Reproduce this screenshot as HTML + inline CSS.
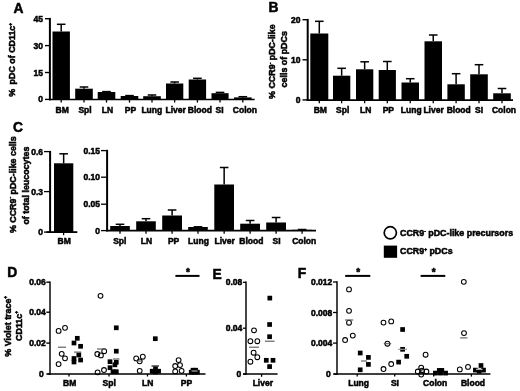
<!DOCTYPE html>
<html lang="en"><head><meta charset="utf-8"><title>Figure</title>
<style>
html,body{margin:0;padding:0;background:#fff;}
body{width:520px;height:391px;overflow:hidden;font-family:"Liberation Sans",Arial,sans-serif;}
svg{display:block;will-change:transform;}
</style></head><body>
<svg width="520" height="391" viewBox="0 0 520 391">
<rect width="520" height="391" fill="#fff"/>
<text x="18.5" y="12.5" font-size="13.8" text-anchor="middle" font-family="Liberation Sans, Arial, sans-serif" font-weight="bold" stroke="#000" stroke-width="0.5" >A</text>
<text transform="translate(15.3,96.8) rotate(-90)" font-size="8.9" text-anchor="start" font-family="Liberation Sans, Arial, sans-serif" font-weight="bold" stroke="#000" stroke-width="0.5">%</text>
<text transform="translate(15.3,84.4) rotate(-90)" font-size="8.9" text-anchor="start" font-family="Liberation Sans, Arial, sans-serif" font-weight="bold" stroke="#000" stroke-width="0.5">pDC of CD11c<tspan font-size="4.8" dy="-3.6">+</tspan><tspan dy="3.6" font-size="1">&#8203;</tspan></text>
<line x1="49.9" y1="17.9" x2="49.9" y2="100.3" stroke="#000" stroke-width="2"/>
<line x1="48.9" y1="99.5" x2="254.6" y2="99.5" stroke="#000" stroke-width="1.7"/>
<line x1="45" y1="18.7" x2="50" y2="18.7" stroke="#000" stroke-width="1.4"/>
<text x="43" y="21.7" font-size="8.5" text-anchor="end" font-family="Liberation Sans, Arial, sans-serif" font-weight="bold" stroke="#000" stroke-width="0.5" >45</text>
<line x1="45" y1="45.6" x2="50" y2="45.6" stroke="#000" stroke-width="1.4"/>
<text x="43" y="48.6" font-size="8.5" text-anchor="end" font-family="Liberation Sans, Arial, sans-serif" font-weight="bold" stroke="#000" stroke-width="0.5" >30</text>
<line x1="45" y1="72.5" x2="50" y2="72.5" stroke="#000" stroke-width="1.4"/>
<text x="43" y="75.5" font-size="8.5" text-anchor="end" font-family="Liberation Sans, Arial, sans-serif" font-weight="bold" stroke="#000" stroke-width="0.5" >15</text>
<line x1="45" y1="99.4" x2="50" y2="99.4" stroke="#000" stroke-width="1.4"/>
<text x="43" y="102.4" font-size="8.5" text-anchor="end" font-family="Liberation Sans, Arial, sans-serif" font-weight="bold" stroke="#000" stroke-width="0.5" >0</text>
<rect x="52.50" y="31.5" width="17.40" height="68.00" fill="#000"/>
<line x1="61.199999999999996" y1="31.5" x2="61.199999999999996" y2="24.3" stroke="#000" stroke-width="1.5"/>
<line x1="56.9" y1="24.3" x2="65.5" y2="24.3" stroke="#000" stroke-width="1.5"/>
<line x1="61.199999999999996" y1="99.5" x2="61.199999999999996" y2="102.6" stroke="#000" stroke-width="1.3"/>
<text x="62.199999999999996" y="112.6" font-size="8.5" text-anchor="middle" font-family="Liberation Sans, Arial, sans-serif" font-weight="bold" stroke="#000" stroke-width="0.5" >BM</text>
<rect x="75.20" y="88.7" width="17.60" height="10.80" fill="#000"/>
<line x1="84.0" y1="88.7" x2="84.0" y2="87" stroke="#000" stroke-width="1.5"/>
<line x1="79.7" y1="87" x2="88.3" y2="87" stroke="#000" stroke-width="1.5"/>
<line x1="84.0" y1="99.5" x2="84.0" y2="102.6" stroke="#000" stroke-width="1.3"/>
<text x="85.0" y="112.6" font-size="8.5" text-anchor="middle" font-family="Liberation Sans, Arial, sans-serif" font-weight="bold" stroke="#000" stroke-width="0.5" >Spl</text>
<rect x="97.70" y="92" width="17.60" height="7.50" fill="#000"/>
<line x1="106.5" y1="92" x2="106.5" y2="91.6" stroke="#000" stroke-width="1.5"/>
<line x1="102.2" y1="91.6" x2="110.8" y2="91.6" stroke="#000" stroke-width="1.5"/>
<line x1="106.5" y1="99.5" x2="106.5" y2="102.6" stroke="#000" stroke-width="1.3"/>
<text x="107.5" y="112.6" font-size="8.5" text-anchor="middle" font-family="Liberation Sans, Arial, sans-serif" font-weight="bold" stroke="#000" stroke-width="0.5" >LN</text>
<rect x="120.70" y="96" width="17.60" height="3.50" fill="#000"/>
<line x1="129.5" y1="96" x2="129.5" y2="95.6" stroke="#000" stroke-width="1.5"/>
<line x1="125.2" y1="95.6" x2="133.8" y2="95.6" stroke="#000" stroke-width="1.5"/>
<line x1="129.5" y1="99.5" x2="129.5" y2="102.6" stroke="#000" stroke-width="1.3"/>
<text x="130.5" y="112.6" font-size="8.5" text-anchor="middle" font-family="Liberation Sans, Arial, sans-serif" font-weight="bold" stroke="#000" stroke-width="0.5" >PP</text>
<rect x="143.20" y="96.2" width="17.60" height="3.30" fill="#000"/>
<line x1="152.0" y1="96.2" x2="152.0" y2="95" stroke="#000" stroke-width="1.5"/>
<line x1="147.7" y1="95" x2="156.3" y2="95" stroke="#000" stroke-width="1.5"/>
<line x1="152.0" y1="99.5" x2="152.0" y2="102.6" stroke="#000" stroke-width="1.3"/>
<text x="151.8" y="112.6" font-size="8.5" text-anchor="middle" font-family="Liberation Sans, Arial, sans-serif" font-weight="bold" stroke="#000" stroke-width="0.5" >Lung</text>
<rect x="166.00" y="83.5" width="17.30" height="16.00" fill="#000"/>
<line x1="174.65" y1="83.5" x2="174.65" y2="82" stroke="#000" stroke-width="1.5"/>
<line x1="170.35" y1="82" x2="178.95000000000002" y2="82" stroke="#000" stroke-width="1.5"/>
<line x1="174.65" y1="99.5" x2="174.65" y2="102.6" stroke="#000" stroke-width="1.3"/>
<text x="175.65" y="112.6" font-size="8.5" text-anchor="middle" font-family="Liberation Sans, Arial, sans-serif" font-weight="bold" stroke="#000" stroke-width="0.5" >Liver</text>
<rect x="188.70" y="79.5" width="17.40" height="20.00" fill="#000"/>
<line x1="197.4" y1="79.5" x2="197.4" y2="78.3" stroke="#000" stroke-width="1.5"/>
<line x1="193.1" y1="78.3" x2="201.70000000000002" y2="78.3" stroke="#000" stroke-width="1.5"/>
<line x1="197.4" y1="99.5" x2="197.4" y2="102.6" stroke="#000" stroke-width="1.3"/>
<text x="199.9" y="112.6" font-size="8.5" text-anchor="middle" font-family="Liberation Sans, Arial, sans-serif" font-weight="bold" stroke="#000" stroke-width="0.5" >Blood</text>
<rect x="211.50" y="93.2" width="17.10" height="6.30" fill="#000"/>
<line x1="220.05" y1="93.2" x2="220.05" y2="92.4" stroke="#000" stroke-width="1.5"/>
<line x1="215.75" y1="92.4" x2="224.35000000000002" y2="92.4" stroke="#000" stroke-width="1.5"/>
<line x1="220.05" y1="99.5" x2="220.05" y2="102.6" stroke="#000" stroke-width="1.3"/>
<text x="219.55" y="112.6" font-size="8.5" text-anchor="middle" font-family="Liberation Sans, Arial, sans-serif" font-weight="bold" stroke="#000" stroke-width="0.5" >SI</text>
<rect x="234.00" y="97.4" width="17.60" height="2.10" fill="#000"/>
<line x1="242.8" y1="97.4" x2="242.8" y2="96.7" stroke="#000" stroke-width="1.5"/>
<line x1="238.5" y1="96.7" x2="247.10000000000002" y2="96.7" stroke="#000" stroke-width="1.5"/>
<line x1="242.8" y1="99.5" x2="242.8" y2="102.6" stroke="#000" stroke-width="1.3"/>
<text x="244.9" y="112.6" font-size="8.5" text-anchor="middle" font-family="Liberation Sans, Arial, sans-serif" font-weight="bold" stroke="#000" stroke-width="0.5" >Colon</text>
<text x="273.4" y="12" font-size="13.8" text-anchor="middle" font-family="Liberation Sans, Arial, sans-serif" font-weight="bold" stroke="#000" stroke-width="0.5" >B</text>
<text transform="translate(275.2,98.9) rotate(-90)" font-size="8.9" text-anchor="start" font-family="Liberation Sans, Arial, sans-serif" font-weight="bold" stroke="#000" stroke-width="0.5">% CCR9<tspan font-size="4.8" dy="-3.6">-</tspan><tspan dy="3.6" font-size="1">&#8203;</tspan> pDC-like</text>
<text transform="translate(287,87.4) rotate(-90)" font-size="8.9" text-anchor="start" font-family="Liberation Sans, Arial, sans-serif" font-weight="bold" stroke="#000" stroke-width="0.5">cells of pDCs</text>
<line x1="307.7" y1="18.9" x2="307.7" y2="101" stroke="#000" stroke-width="2"/>
<line x1="306.7" y1="100.1" x2="513" y2="100.1" stroke="#000" stroke-width="1.8"/>
<line x1="302.5" y1="19.7" x2="307.5" y2="19.7" stroke="#000" stroke-width="1.4"/>
<text x="300.5" y="22.7" font-size="8.5" text-anchor="end" font-family="Liberation Sans, Arial, sans-serif" font-weight="bold" stroke="#000" stroke-width="0.5" >20</text>
<line x1="302.5" y1="59.8" x2="307.5" y2="59.8" stroke="#000" stroke-width="1.4"/>
<text x="300.5" y="62.8" font-size="8.5" text-anchor="end" font-family="Liberation Sans, Arial, sans-serif" font-weight="bold" stroke="#000" stroke-width="0.5" >10</text>
<line x1="302.5" y1="99.9" x2="307.5" y2="99.9" stroke="#000" stroke-width="1.4"/>
<text x="300.5" y="102.9" font-size="8.5" text-anchor="end" font-family="Liberation Sans, Arial, sans-serif" font-weight="bold" stroke="#000" stroke-width="0.5" >0</text>
<rect x="310.30" y="33.5" width="18.00" height="66.60" fill="#000"/>
<line x1="319.3" y1="33.5" x2="319.3" y2="21.3" stroke="#000" stroke-width="1.5"/>
<line x1="315.0" y1="21.3" x2="323.6" y2="21.3" stroke="#000" stroke-width="1.5"/>
<line x1="319.3" y1="100.1" x2="319.3" y2="103.2" stroke="#000" stroke-width="1.3"/>
<text x="320.3" y="113" font-size="8.5" text-anchor="middle" font-family="Liberation Sans, Arial, sans-serif" font-weight="bold" stroke="#000" stroke-width="0.5" >BM</text>
<rect x="333.00" y="75.7" width="17.30" height="24.40" fill="#000"/>
<line x1="341.65" y1="75.7" x2="341.65" y2="68.3" stroke="#000" stroke-width="1.5"/>
<line x1="337.34999999999997" y1="68.3" x2="345.95" y2="68.3" stroke="#000" stroke-width="1.5"/>
<line x1="341.65" y1="100.1" x2="341.65" y2="103.2" stroke="#000" stroke-width="1.3"/>
<text x="342.65" y="113" font-size="8.5" text-anchor="middle" font-family="Liberation Sans, Arial, sans-serif" font-weight="bold" stroke="#000" stroke-width="0.5" >Spl</text>
<rect x="356.00" y="69.3" width="17.30" height="30.80" fill="#000"/>
<line x1="364.65" y1="69.3" x2="364.65" y2="61.8" stroke="#000" stroke-width="1.5"/>
<line x1="360.34999999999997" y1="61.8" x2="368.95" y2="61.8" stroke="#000" stroke-width="1.5"/>
<line x1="364.65" y1="100.1" x2="364.65" y2="103.2" stroke="#000" stroke-width="1.3"/>
<text x="365.65" y="113" font-size="8.5" text-anchor="middle" font-family="Liberation Sans, Arial, sans-serif" font-weight="bold" stroke="#000" stroke-width="0.5" >LN</text>
<rect x="378.70" y="70" width="17.20" height="30.10" fill="#000"/>
<line x1="387.3" y1="70" x2="387.3" y2="61.5" stroke="#000" stroke-width="1.5"/>
<line x1="383.0" y1="61.5" x2="391.6" y2="61.5" stroke="#000" stroke-width="1.5"/>
<line x1="387.3" y1="100.1" x2="387.3" y2="103.2" stroke="#000" stroke-width="1.3"/>
<text x="388.3" y="113" font-size="8.5" text-anchor="middle" font-family="Liberation Sans, Arial, sans-serif" font-weight="bold" stroke="#000" stroke-width="0.5" >PP</text>
<rect x="401.50" y="82.5" width="17.50" height="17.60" fill="#000"/>
<line x1="410.25" y1="82.5" x2="410.25" y2="78.7" stroke="#000" stroke-width="1.5"/>
<line x1="405.95" y1="78.7" x2="414.55" y2="78.7" stroke="#000" stroke-width="1.5"/>
<line x1="410.25" y1="100.1" x2="410.25" y2="103.2" stroke="#000" stroke-width="1.3"/>
<text x="411.25" y="113" font-size="8.5" text-anchor="middle" font-family="Liberation Sans, Arial, sans-serif" font-weight="bold" stroke="#000" stroke-width="0.5" >Lung</text>
<rect x="424.50" y="41.3" width="17.50" height="58.80" fill="#000"/>
<line x1="433.25" y1="41.3" x2="433.25" y2="35" stroke="#000" stroke-width="1.5"/>
<line x1="428.95" y1="35" x2="437.55" y2="35" stroke="#000" stroke-width="1.5"/>
<line x1="433.25" y1="100.1" x2="433.25" y2="103.2" stroke="#000" stroke-width="1.3"/>
<text x="433.55" y="113" font-size="8.5" text-anchor="middle" font-family="Liberation Sans, Arial, sans-serif" font-weight="bold" stroke="#000" stroke-width="0.5" >Liver</text>
<rect x="447.40" y="84.3" width="17.40" height="15.80" fill="#000"/>
<line x1="456.1" y1="84.3" x2="456.1" y2="73.7" stroke="#000" stroke-width="1.5"/>
<line x1="451.8" y1="73.7" x2="460.40000000000003" y2="73.7" stroke="#000" stroke-width="1.5"/>
<line x1="456.1" y1="100.1" x2="456.1" y2="103.2" stroke="#000" stroke-width="1.3"/>
<text x="458.70000000000005" y="113" font-size="8.5" text-anchor="middle" font-family="Liberation Sans, Arial, sans-serif" font-weight="bold" stroke="#000" stroke-width="0.5" >Blood</text>
<rect x="470.20" y="74.3" width="17.60" height="25.80" fill="#000"/>
<line x1="479.0" y1="74.3" x2="479.0" y2="64.7" stroke="#000" stroke-width="1.5"/>
<line x1="474.7" y1="64.7" x2="483.3" y2="64.7" stroke="#000" stroke-width="1.5"/>
<line x1="479.0" y1="100.1" x2="479.0" y2="103.2" stroke="#000" stroke-width="1.3"/>
<text x="479.1" y="113" font-size="8.5" text-anchor="middle" font-family="Liberation Sans, Arial, sans-serif" font-weight="bold" stroke="#000" stroke-width="0.5" >SI</text>
<rect x="493.20" y="93.3" width="17.60" height="6.80" fill="#000"/>
<line x1="502.0" y1="93.3" x2="502.0" y2="88.5" stroke="#000" stroke-width="1.5"/>
<line x1="497.7" y1="88.5" x2="506.3" y2="88.5" stroke="#000" stroke-width="1.5"/>
<line x1="502.0" y1="100.1" x2="502.0" y2="103.2" stroke="#000" stroke-width="1.3"/>
<text x="504.0" y="113" font-size="8.5" text-anchor="middle" font-family="Liberation Sans, Arial, sans-serif" font-weight="bold" stroke="#000" stroke-width="0.5" >Colon</text>
<text x="18" y="132" font-size="13.8" text-anchor="middle" font-family="Liberation Sans, Arial, sans-serif" font-weight="bold" stroke="#000" stroke-width="0.5" >C</text>
<text transform="translate(15.8,233.1) rotate(-90)" font-size="8.9" text-anchor="start" font-family="Liberation Sans, Arial, sans-serif" font-weight="bold" stroke="#000" stroke-width="0.5">% CCR9<tspan font-size="4.8" dy="-3.6">-</tspan><tspan dy="3.6" font-size="1">&#8203;</tspan> pDC-like cells</text>
<text transform="translate(28.8,224.6) rotate(-90)" font-size="8.9" text-anchor="start" font-family="Liberation Sans, Arial, sans-serif" font-weight="bold" stroke="#000" stroke-width="0.5">of total leucocytes</text>
<line x1="50.1" y1="150.9" x2="50.1" y2="233" stroke="#000" stroke-width="2"/>
<line x1="46.5" y1="232.1" x2="77.3" y2="232.1" stroke="#000" stroke-width="1.8"/>
<line x1="44" y1="151.6" x2="50" y2="151.6" stroke="#000" stroke-width="1.3"/>
<text x="43" y="154.6" font-size="8.5" text-anchor="end" font-family="Liberation Sans, Arial, sans-serif" font-weight="bold" stroke="#000" stroke-width="0.5" >0.6</text>
<line x1="44" y1="191.6" x2="50" y2="191.6" stroke="#000" stroke-width="1.3"/>
<text x="43" y="194.6" font-size="8.5" text-anchor="end" font-family="Liberation Sans, Arial, sans-serif" font-weight="bold" stroke="#000" stroke-width="0.5" >0.3</text>
<line x1="44" y1="232.1" x2="50" y2="232.1" stroke="#000" stroke-width="1.3"/>
<text x="43" y="235.1" font-size="8.5" text-anchor="end" font-family="Liberation Sans, Arial, sans-serif" font-weight="bold" stroke="#000" stroke-width="0.5" >0</text>
<rect x="54.00" y="163.3" width="19.30" height="68.80" fill="#000"/>
<line x1="63.65" y1="163.3" x2="63.65" y2="153.8" stroke="#000" stroke-width="1.5"/>
<line x1="59.35" y1="153.8" x2="67.95" y2="153.8" stroke="#000" stroke-width="1.5"/>
<line x1="63.6" y1="232.1" x2="63.6" y2="235.2" stroke="#000" stroke-width="1.3"/>
<text x="64.2" y="244.2" font-size="8.5" text-anchor="middle" font-family="Liberation Sans, Arial, sans-serif" font-weight="bold" stroke="#000" stroke-width="0.5" >BM</text>
<line x1="107.1" y1="149.8" x2="107.1" y2="231.4" stroke="#000" stroke-width="2"/>
<line x1="106.1" y1="230.6" x2="316" y2="230.6" stroke="#000" stroke-width="1.8"/>
<line x1="101" y1="150.6" x2="107" y2="150.6" stroke="#000" stroke-width="1.3"/>
<text x="100" y="153.6" font-size="8.5" text-anchor="end" font-family="Liberation Sans, Arial, sans-serif" font-weight="bold" stroke="#000" stroke-width="0.5" >0.15</text>
<line x1="101" y1="177.2" x2="107" y2="177.2" stroke="#000" stroke-width="1.3"/>
<text x="100" y="180.2" font-size="8.5" text-anchor="end" font-family="Liberation Sans, Arial, sans-serif" font-weight="bold" stroke="#000" stroke-width="0.5" >0.10</text>
<line x1="101" y1="204.2" x2="107" y2="204.2" stroke="#000" stroke-width="1.3"/>
<text x="100" y="207.2" font-size="8.5" text-anchor="end" font-family="Liberation Sans, Arial, sans-serif" font-weight="bold" stroke="#000" stroke-width="0.5" >0.05</text>
<line x1="101" y1="230.6" x2="107" y2="230.6" stroke="#000" stroke-width="1.3"/>
<text x="100" y="233.6" font-size="8.5" text-anchor="end" font-family="Liberation Sans, Arial, sans-serif" font-weight="bold" stroke="#000" stroke-width="0.5" >0</text>
<rect x="110.20" y="226" width="19.60" height="4.50" fill="#000"/>
<line x1="120.0" y1="226" x2="120.0" y2="224.3" stroke="#000" stroke-width="1.5"/>
<line x1="115.7" y1="224.3" x2="124.3" y2="224.3" stroke="#000" stroke-width="1.5"/>
<line x1="120.0" y1="230.5" x2="120.0" y2="233.8" stroke="#000" stroke-width="1.3"/>
<text x="119.8" y="243.8" font-size="8.5" text-anchor="middle" font-family="Liberation Sans, Arial, sans-serif" font-weight="bold" stroke="#000" stroke-width="0.5" >Spl</text>
<rect x="136.20" y="221.3" width="19.60" height="9.20" fill="#000"/>
<line x1="146.0" y1="221.3" x2="146.0" y2="218.7" stroke="#000" stroke-width="1.5"/>
<line x1="141.7" y1="218.7" x2="150.3" y2="218.7" stroke="#000" stroke-width="1.5"/>
<line x1="146.0" y1="230.5" x2="146.0" y2="233.8" stroke="#000" stroke-width="1.3"/>
<text x="146.5" y="243.8" font-size="8.5" text-anchor="middle" font-family="Liberation Sans, Arial, sans-serif" font-weight="bold" stroke="#000" stroke-width="0.5" >LN</text>
<rect x="162.20" y="215.5" width="19.80" height="15.00" fill="#000"/>
<line x1="172.1" y1="215.5" x2="172.1" y2="210" stroke="#000" stroke-width="1.5"/>
<line x1="167.79999999999998" y1="210" x2="176.4" y2="210" stroke="#000" stroke-width="1.5"/>
<line x1="172.1" y1="230.5" x2="172.1" y2="233.8" stroke="#000" stroke-width="1.3"/>
<text x="173.6" y="243.8" font-size="8.5" text-anchor="middle" font-family="Liberation Sans, Arial, sans-serif" font-weight="bold" stroke="#000" stroke-width="0.5" >PP</text>
<rect x="188.20" y="227" width="19.60" height="3.50" fill="#000"/>
<line x1="198.0" y1="227" x2="198.0" y2="226.8" stroke="#000" stroke-width="1.5"/>
<line x1="193.7" y1="226.8" x2="202.3" y2="226.8" stroke="#000" stroke-width="1.5"/>
<line x1="198.0" y1="230.5" x2="198.0" y2="233.8" stroke="#000" stroke-width="1.3"/>
<text x="198.5" y="243.8" font-size="8.5" text-anchor="middle" font-family="Liberation Sans, Arial, sans-serif" font-weight="bold" stroke="#000" stroke-width="0.5" >Lung</text>
<rect x="214.30" y="184.5" width="19.70" height="46.00" fill="#000"/>
<line x1="224.14999999999998" y1="184.5" x2="224.14999999999998" y2="167.5" stroke="#000" stroke-width="1.5"/>
<line x1="219.84999999999997" y1="167.5" x2="228.45" y2="167.5" stroke="#000" stroke-width="1.5"/>
<line x1="224.14999999999998" y1="230.5" x2="224.14999999999998" y2="233.8" stroke="#000" stroke-width="1.3"/>
<text x="224.64999999999998" y="243.8" font-size="8.5" text-anchor="middle" font-family="Liberation Sans, Arial, sans-serif" font-weight="bold" stroke="#000" stroke-width="0.5" >Liver</text>
<rect x="240.20" y="223.7" width="19.80" height="6.80" fill="#000"/>
<line x1="250.1" y1="223.7" x2="250.1" y2="220.5" stroke="#000" stroke-width="1.5"/>
<line x1="245.79999999999998" y1="220.5" x2="254.4" y2="220.5" stroke="#000" stroke-width="1.5"/>
<line x1="250.1" y1="230.5" x2="250.1" y2="233.8" stroke="#000" stroke-width="1.3"/>
<text x="251.35" y="243.8" font-size="8.5" text-anchor="middle" font-family="Liberation Sans, Arial, sans-serif" font-weight="bold" stroke="#000" stroke-width="0.5" >Blood</text>
<rect x="266.20" y="222.5" width="19.80" height="8.00" fill="#000"/>
<line x1="276.1" y1="222.5" x2="276.1" y2="217.5" stroke="#000" stroke-width="1.5"/>
<line x1="271.8" y1="217.5" x2="280.40000000000003" y2="217.5" stroke="#000" stroke-width="1.5"/>
<line x1="276.1" y1="230.5" x2="276.1" y2="233.8" stroke="#000" stroke-width="1.3"/>
<text x="276.6" y="243.8" font-size="8.5" text-anchor="middle" font-family="Liberation Sans, Arial, sans-serif" font-weight="bold" stroke="#000" stroke-width="0.5" >SI</text>
<rect x="292.20" y="229.8" width="19.80" height="0.70" fill="#000"/>
<line x1="302.1" y1="229.8" x2="302.1" y2="229.5" stroke="#000" stroke-width="1.5"/>
<line x1="297.8" y1="229.5" x2="306.40000000000003" y2="229.5" stroke="#000" stroke-width="1.5"/>
<line x1="302.1" y1="230.5" x2="302.1" y2="233.8" stroke="#000" stroke-width="1.3"/>
<text x="304.20000000000005" y="243.8" font-size="8.5" text-anchor="middle" font-family="Liberation Sans, Arial, sans-serif" font-weight="bold" stroke="#000" stroke-width="0.5" >Colon</text>
<circle cx="390.3" cy="232.8" r="6.1" fill="#fff" stroke="#000" stroke-width="1.7"/>
<text x="400" y="236.3" font-size="8.9" text-anchor="start" font-family="Liberation Sans, Arial, sans-serif" font-weight="bold" stroke="#000" stroke-width="0.5" >CCR9<tspan font-size="4.8" dy="-3.6">-</tspan><tspan dy="3.6" font-size="1">&#8203;</tspan> pDC-like precursors</text>
<rect x="383.8" y="245.6" width="13.3" height="12.2" fill="#000"/>
<text x="400" y="254.2" font-size="8.9" text-anchor="start" font-family="Liberation Sans, Arial, sans-serif" font-weight="bold" stroke="#000" stroke-width="0.5" >CCR9<tspan font-size="4.8" dy="-3.6">+</tspan><tspan dy="3.6" font-size="1">&#8203;</tspan> pDCs</text>
<text x="12.2" y="276.8" font-size="13.8" text-anchor="middle" font-family="Liberation Sans, Arial, sans-serif" font-weight="bold" stroke="#000" stroke-width="0.5" >D</text>
<text transform="translate(10.8,356.7) rotate(-90)" font-size="8.9" text-anchor="start" font-family="Liberation Sans, Arial, sans-serif" font-weight="bold" stroke="#000" stroke-width="0.5">% Violet trace<tspan font-size="4.8" dy="-3.6">+</tspan><tspan dy="3.6" font-size="1">&#8203;</tspan></text>
<text transform="translate(21.5,340.9) rotate(-90)" font-size="8.9" text-anchor="start" font-family="Liberation Sans, Arial, sans-serif" font-weight="bold" stroke="#000" stroke-width="0.5">CD11c<tspan font-size="4.8" dy="-3.6">+</tspan><tspan dy="3.6" font-size="1">&#8203;</tspan></text>
<line x1="50" y1="281.5" x2="50" y2="374.7" stroke="#000" stroke-width="1.45"/>
<line x1="47.5" y1="374.0" x2="205.5" y2="374.0" stroke="#000" stroke-width="1.5"/>
<line x1="46.3" y1="282.2" x2="50" y2="282.2" stroke="#000" stroke-width="1.4"/>
<text x="45.8" y="285.2" font-size="8.5" text-anchor="end" font-family="Liberation Sans, Arial, sans-serif" font-weight="bold" stroke="#000" stroke-width="0.5" >0.06</text>
<line x1="46.3" y1="312.2" x2="50" y2="312.2" stroke="#000" stroke-width="1.4"/>
<text x="45.8" y="315.2" font-size="8.5" text-anchor="end" font-family="Liberation Sans, Arial, sans-serif" font-weight="bold" stroke="#000" stroke-width="0.5" >0.04</text>
<line x1="46.3" y1="343.1" x2="50" y2="343.1" stroke="#000" stroke-width="1.4"/>
<text x="45.8" y="346.1" font-size="8.5" text-anchor="end" font-family="Liberation Sans, Arial, sans-serif" font-weight="bold" stroke="#000" stroke-width="0.5" >0.02</text>
<line x1="46.3" y1="374.0" x2="50" y2="374.0" stroke="#000" stroke-width="1.4"/>
<text x="43.8" y="377.0" font-size="8.5" text-anchor="end" font-family="Liberation Sans, Arial, sans-serif" font-weight="bold" stroke="#000" stroke-width="0.5" >0</text>
<line x1="69" y1="374.0" x2="69" y2="376.5" stroke="#000" stroke-width="1.3"/>
<text x="69.7" y="386" font-size="8.5" text-anchor="middle" font-family="Liberation Sans, Arial, sans-serif" font-weight="bold" stroke="#000" stroke-width="0.5" >BM</text>
<line x1="109" y1="374.0" x2="109" y2="376.5" stroke="#000" stroke-width="1.3"/>
<text x="109.2" y="386" font-size="8.5" text-anchor="middle" font-family="Liberation Sans, Arial, sans-serif" font-weight="bold" stroke="#000" stroke-width="0.5" >Spl</text>
<line x1="147.5" y1="374.0" x2="147.5" y2="376.5" stroke="#000" stroke-width="1.3"/>
<text x="147.7" y="386" font-size="8.5" text-anchor="middle" font-family="Liberation Sans, Arial, sans-serif" font-weight="bold" stroke="#000" stroke-width="0.5" >LN</text>
<line x1="186.4" y1="374.0" x2="186.4" y2="376.5" stroke="#000" stroke-width="1.3"/>
<text x="186.4" y="386" font-size="8.5" text-anchor="middle" font-family="Liberation Sans, Arial, sans-serif" font-weight="bold" stroke="#000" stroke-width="0.5" >PP</text>
<line x1="175.4" y1="275.9" x2="199.5" y2="275.9" stroke="#000" stroke-width="2"/>
<text x="188" y="275.6" font-size="10" text-anchor="middle" font-family="Liberation Sans, Arial, sans-serif" font-weight="bold" stroke="#000" stroke-width="0.5" >*</text>
<circle cx="58.6" cy="330.9" r="2.4" fill="none" stroke="#000" stroke-width="1.05"/>
<circle cx="65" cy="327.8" r="2.4" fill="none" stroke="#000" stroke-width="1.05"/>
<circle cx="61.7" cy="353.8" r="2.4" fill="none" stroke="#000" stroke-width="1.05"/>
<circle cx="65" cy="358.3" r="2.4" fill="none" stroke="#000" stroke-width="1.05"/>
<circle cx="58.6" cy="364.1" r="2.4" fill="none" stroke="#000" stroke-width="1.05"/>
<line x1="58" y1="347.2" x2="66" y2="347.2" stroke="#555" stroke-width="1.1"/>
<rect x="74.95" y="335.95" width="4.7" height="4.7" fill="#000"/>
<rect x="71.65" y="340.65" width="4.7" height="4.7" fill="#000"/>
<rect x="78.25" y="343.95" width="4.7" height="4.7" fill="#000"/>
<rect x="76.45" y="352.65" width="4.7" height="4.7" fill="#000"/>
<rect x="71.65" y="356.15" width="4.7" height="4.7" fill="#000"/>
<rect x="78.25" y="357.65" width="4.7" height="4.7" fill="#000"/>
<rect x="71.65" y="359.65" width="4.7" height="4.7" fill="#000"/>
<line x1="74" y1="352.1" x2="81.3" y2="352.1" stroke="#555" stroke-width="1.1"/>
<circle cx="100.5" cy="295.8" r="2.4" fill="none" stroke="#000" stroke-width="1.05"/>
<circle cx="97.3" cy="354" r="2.4" fill="none" stroke="#000" stroke-width="1.05"/>
<circle cx="100.9" cy="355.4" r="2.4" fill="none" stroke="#000" stroke-width="1.05"/>
<circle cx="104.2" cy="351.2" r="2.4" fill="none" stroke="#000" stroke-width="1.05"/>
<circle cx="104" cy="370" r="2.4" fill="none" stroke="#000" stroke-width="1.05"/>
<circle cx="97.6" cy="372.3" r="2.4" fill="none" stroke="#000" stroke-width="1.05"/>
<line x1="97" y1="349" x2="105" y2="349" stroke="#555" stroke-width="1.1"/>
<rect x="113.95" y="325.45" width="4.7" height="4.7" fill="#000"/>
<rect x="113.95" y="348.85" width="4.7" height="4.7" fill="#000"/>
<rect x="107.65" y="359.35" width="4.7" height="4.7" fill="#000"/>
<rect x="113.95" y="359.95" width="4.7" height="4.7" fill="#000"/>
<rect x="112.55" y="362.45" width="4.7" height="4.7" fill="#000"/>
<rect x="107.65" y="365.35" width="4.7" height="4.7" fill="#000"/>
<rect x="110.65" y="369.35" width="4.7" height="4.7" fill="#000"/>
<rect x="113.95" y="369.35" width="4.7" height="4.7" fill="#000"/>
<line x1="113" y1="359" x2="119.4" y2="359" stroke="#555" stroke-width="1.1"/>
<circle cx="136.2" cy="358.4" r="2.4" fill="none" stroke="#000" stroke-width="1.05"/>
<circle cx="142.8" cy="356.7" r="2.4" fill="none" stroke="#000" stroke-width="1.05"/>
<circle cx="139.7" cy="361.3" r="2.4" fill="none" stroke="#000" stroke-width="1.05"/>
<circle cx="139.7" cy="370.8" r="2.4" fill="none" stroke="#000" stroke-width="1.05"/>
<line x1="136" y1="361" x2="143" y2="361" stroke="#555" stroke-width="1.1"/>
<rect x="152.95" y="336.35" width="4.7" height="4.7" fill="#000"/>
<rect x="149.85" y="368.85" width="4.7" height="4.7" fill="#000"/>
<rect x="153.15" y="366.45" width="4.7" height="4.7" fill="#000"/>
<rect x="156.25" y="368.85" width="4.7" height="4.7" fill="#000"/>
<rect x="153.05" y="369.65" width="4.7" height="4.7" fill="#000"/>
<line x1="151.5" y1="366" x2="159" y2="366" stroke="#000" stroke-width="1.1"/>
<circle cx="178.6" cy="360.1" r="2.4" fill="none" stroke="#000" stroke-width="1.05"/>
<circle cx="175.2" cy="366" r="2.4" fill="none" stroke="#000" stroke-width="1.05"/>
<circle cx="180" cy="365.1" r="2.4" fill="none" stroke="#000" stroke-width="1.05"/>
<circle cx="175.2" cy="371.4" r="2.4" fill="none" stroke="#000" stroke-width="1.05"/>
<circle cx="181.6" cy="370.8" r="2.4" fill="none" stroke="#000" stroke-width="1.05"/>
<rect x="190.65" y="367.85" width="4.7" height="4.7" fill="#000"/>
<rect x="193.25" y="367.85" width="4.7" height="4.7" fill="#000"/>
<rect x="188.85" y="369.85" width="4.7" height="4.7" fill="#000"/>
<rect x="191.95" y="369.85" width="4.7" height="4.7" fill="#000"/>
<rect x="195.05" y="369.85" width="4.7" height="4.7" fill="#000"/>
<line x1="191.5" y1="371" x2="197.5" y2="371" stroke="#bbb" stroke-width="1.1"/>
<text x="217.2" y="279" font-size="13.8" text-anchor="middle" font-family="Liberation Sans, Arial, sans-serif" font-weight="bold" stroke="#000" stroke-width="0.5" >E</text>
<line x1="246" y1="281.5" x2="246" y2="374.8" stroke="#000" stroke-width="1.45"/>
<line x1="243" y1="374.1" x2="277.6" y2="374.1" stroke="#000" stroke-width="1.5"/>
<line x1="243" y1="282.3" x2="246" y2="282.3" stroke="#000" stroke-width="1.3"/>
<text x="242.3" y="285.3" font-size="8.5" text-anchor="end" font-family="Liberation Sans, Arial, sans-serif" font-weight="bold" stroke="#000" stroke-width="0.5" >0.08</text>
<line x1="243" y1="328.2" x2="246" y2="328.2" stroke="#000" stroke-width="1.3"/>
<text x="242.3" y="331.2" font-size="8.5" text-anchor="end" font-family="Liberation Sans, Arial, sans-serif" font-weight="bold" stroke="#000" stroke-width="0.5" >0.04</text>
<line x1="243" y1="374.1" x2="246" y2="374.1" stroke="#000" stroke-width="1.3"/>
<text x="241.3" y="377.1" font-size="8.5" text-anchor="end" font-family="Liberation Sans, Arial, sans-serif" font-weight="bold" stroke="#000" stroke-width="0.5" >0</text>
<line x1="261.6" y1="374.1" x2="261.6" y2="376.8" stroke="#000" stroke-width="1.3"/>
<text x="262.8" y="386.3" font-size="8.5" text-anchor="middle" font-family="Liberation Sans, Arial, sans-serif" font-weight="bold" stroke="#000" stroke-width="0.5" >Liver</text>
<circle cx="254" cy="330.3" r="2.4" fill="none" stroke="#000" stroke-width="1.05"/>
<circle cx="250.4" cy="341.2" r="2.4" fill="none" stroke="#000" stroke-width="1.05"/>
<circle cx="257.3" cy="341.2" r="2.4" fill="none" stroke="#000" stroke-width="1.05"/>
<circle cx="253.6" cy="352.7" r="2.4" fill="none" stroke="#000" stroke-width="1.05"/>
<circle cx="257.3" cy="357.2" r="2.4" fill="none" stroke="#000" stroke-width="1.05"/>
<circle cx="250.4" cy="361.7" r="2.4" fill="none" stroke="#000" stroke-width="1.05"/>
<line x1="249.1" y1="347.2" x2="258.9" y2="347.2" stroke="#555" stroke-width="1.1"/>
<rect x="267.45" y="295.75" width="4.7" height="4.7" fill="#000"/>
<rect x="267.25" y="322.15" width="4.7" height="4.7" fill="#000"/>
<rect x="267.25" y="334.35" width="4.7" height="4.7" fill="#000"/>
<rect x="263.95" y="357.95" width="4.7" height="4.7" fill="#000"/>
<rect x="270.65" y="357.95" width="4.7" height="4.7" fill="#000"/>
<rect x="267.25" y="364.25" width="4.7" height="4.7" fill="#000"/>
<line x1="264.9" y1="341.2" x2="274.5" y2="341.2" stroke="#555" stroke-width="1.1"/>
<text x="302" y="278.2" font-size="13.8" text-anchor="middle" font-family="Liberation Sans, Arial, sans-serif" font-weight="bold" stroke="#000" stroke-width="0.5" >F</text>
<line x1="337" y1="281.2" x2="337" y2="374.8" stroke="#000" stroke-width="1.45"/>
<line x1="334" y1="374.1" x2="490.4" y2="374.1" stroke="#000" stroke-width="1.5"/>
<line x1="333" y1="282" x2="337" y2="282" stroke="#000" stroke-width="1.3"/>
<text x="332.2" y="285" font-size="8.5" text-anchor="end" font-family="Liberation Sans, Arial, sans-serif" font-weight="bold" stroke="#000" stroke-width="0.5" >0.012</text>
<line x1="333" y1="312.5" x2="337" y2="312.5" stroke="#000" stroke-width="1.3"/>
<text x="332.2" y="315.5" font-size="8.5" text-anchor="end" font-family="Liberation Sans, Arial, sans-serif" font-weight="bold" stroke="#000" stroke-width="0.5" >0.008</text>
<line x1="333" y1="343.1" x2="337" y2="343.1" stroke="#000" stroke-width="1.3"/>
<text x="332.2" y="346.1" font-size="8.5" text-anchor="end" font-family="Liberation Sans, Arial, sans-serif" font-weight="bold" stroke="#000" stroke-width="0.5" >0.004</text>
<line x1="333" y1="374.1" x2="337" y2="374.1" stroke="#000" stroke-width="1.3"/>
<text x="330.7" y="377.1" font-size="8.5" text-anchor="end" font-family="Liberation Sans, Arial, sans-serif" font-weight="bold" stroke="#000" stroke-width="0.5" >0</text>
<line x1="357.2" y1="374.1" x2="357.2" y2="376.6" stroke="#000" stroke-width="1.3"/>
<text x="358.6" y="386.2" font-size="8.5" text-anchor="middle" font-family="Liberation Sans, Arial, sans-serif" font-weight="bold" stroke="#000" stroke-width="0.5" >Lung</text>
<line x1="394.7" y1="374.1" x2="394.7" y2="376.6" stroke="#000" stroke-width="1.3"/>
<text x="394.9" y="386.2" font-size="8.5" text-anchor="middle" font-family="Liberation Sans, Arial, sans-serif" font-weight="bold" stroke="#000" stroke-width="0.5" >SI</text>
<line x1="433.7" y1="374.1" x2="433.7" y2="376.6" stroke="#000" stroke-width="1.3"/>
<text x="435.1" y="386.2" font-size="8.5" text-anchor="middle" font-family="Liberation Sans, Arial, sans-serif" font-weight="bold" stroke="#000" stroke-width="0.5" >Colon</text>
<line x1="471.4" y1="374.1" x2="471.4" y2="376.6" stroke="#000" stroke-width="1.3"/>
<text x="473" y="386.2" font-size="8.5" text-anchor="middle" font-family="Liberation Sans, Arial, sans-serif" font-weight="bold" stroke="#000" stroke-width="0.5" >Blood</text>
<line x1="345.2" y1="275.9" x2="370.3" y2="275.9" stroke="#000" stroke-width="2"/>
<text x="358.3" y="275.6" font-size="10" text-anchor="middle" font-family="Liberation Sans, Arial, sans-serif" font-weight="bold" stroke="#000" stroke-width="0.5" >*</text>
<line x1="420.6" y1="275.9" x2="445.3" y2="275.9" stroke="#000" stroke-width="2"/>
<text x="433.8" y="275.6" font-size="10" text-anchor="middle" font-family="Liberation Sans, Arial, sans-serif" font-weight="bold" stroke="#000" stroke-width="0.5" >*</text>
<circle cx="349" cy="289.4" r="2.4" fill="none" stroke="#000" stroke-width="1.05"/>
<circle cx="349" cy="310.8" r="2.4" fill="none" stroke="#000" stroke-width="1.05"/>
<circle cx="349" cy="322.7" r="2.4" fill="none" stroke="#000" stroke-width="1.05"/>
<circle cx="352.8" cy="335.6" r="2.4" fill="none" stroke="#000" stroke-width="1.05"/>
<circle cx="345.1" cy="340" r="2.4" fill="none" stroke="#000" stroke-width="1.05"/>
<line x1="345" y1="320" x2="353.3" y2="320" stroke="#555" stroke-width="1.1"/>
<rect x="357.85" y="350.65" width="4.7" height="4.7" fill="#000"/>
<rect x="366.05" y="355.05" width="4.7" height="4.7" fill="#000"/>
<rect x="366.05" y="362.05" width="4.7" height="4.7" fill="#000"/>
<rect x="357.85" y="367.45" width="4.7" height="4.7" fill="#000"/>
<line x1="361" y1="361" x2="367" y2="361" stroke="#555" stroke-width="1.1"/>
<circle cx="383.5" cy="322.6" r="2.4" fill="none" stroke="#000" stroke-width="1.05"/>
<circle cx="391.2" cy="321.4" r="2.4" fill="none" stroke="#000" stroke-width="1.05"/>
<circle cx="387.4" cy="343.7" r="2.4" fill="none" stroke="#000" stroke-width="1.05"/>
<circle cx="391.2" cy="364" r="2.4" fill="none" stroke="#000" stroke-width="1.05"/>
<circle cx="383.5" cy="369" r="2.4" fill="none" stroke="#000" stroke-width="1.05"/>
<line x1="383.8" y1="343.7" x2="391.2" y2="343.7" stroke="#555" stroke-width="1.1"/>
<rect x="400.25" y="327.15" width="4.7" height="4.7" fill="#000"/>
<rect x="400.25" y="346.95" width="4.7" height="4.7" fill="#000"/>
<rect x="404.35" y="353.95" width="4.7" height="4.7" fill="#000"/>
<rect x="396.25" y="359.75" width="4.7" height="4.7" fill="#000"/>
<line x1="398" y1="349.3" x2="407" y2="349.3" stroke="#999" stroke-width="1.1"/>
<circle cx="425.6" cy="354.7" r="2.4" fill="none" stroke="#000" stroke-width="1.05"/>
<circle cx="421.2" cy="367.7" r="2.4" fill="none" stroke="#000" stroke-width="1.05"/>
<circle cx="417.8" cy="371.5" r="2.4" fill="none" stroke="#000" stroke-width="1.05"/>
<circle cx="422.1" cy="370.7" r="2.4" fill="none" stroke="#000" stroke-width="1.05"/>
<circle cx="426.4" cy="371.5" r="2.4" fill="none" stroke="#000" stroke-width="1.05"/>
<circle cx="421.2" cy="374.5" r="2.4" fill="none" stroke="#000" stroke-width="1.05"/>
<rect x="436.95" y="368.05" width="4.7" height="4.7" fill="#000"/>
<rect x="439.45" y="368.05" width="4.7" height="4.7" fill="#000"/>
<rect x="433.05" y="370.75" width="4.7" height="4.7" fill="#000"/>
<rect x="438.15" y="370.75" width="4.7" height="4.7" fill="#000"/>
<rect x="443.25" y="370.75" width="4.7" height="4.7" fill="#000"/>
<circle cx="463.8" cy="281.8" r="2.4" fill="none" stroke="#000" stroke-width="1.05"/>
<circle cx="464" cy="333.1" r="2.4" fill="none" stroke="#000" stroke-width="1.05"/>
<circle cx="459.8" cy="369.4" r="2.4" fill="none" stroke="#000" stroke-width="1.05"/>
<circle cx="468" cy="366.9" r="2.4" fill="none" stroke="#000" stroke-width="1.05"/>
<line x1="460.2" y1="337.9" x2="467.4" y2="337.9" stroke="#555" stroke-width="1.1"/>
<rect x="478.65" y="363.15" width="4.7" height="4.7" fill="#000"/>
<rect x="473.05" y="367.75" width="4.7" height="4.7" fill="#000"/>
<rect x="481.15" y="367.75" width="4.7" height="4.7" fill="#000"/>
<rect x="476.85" y="368.85" width="4.7" height="4.7" fill="#000"/>
<line x1="476" y1="369.3" x2="482.5" y2="369.3" stroke="#ccc" stroke-width="1.1"/>
</svg>
</body></html>
